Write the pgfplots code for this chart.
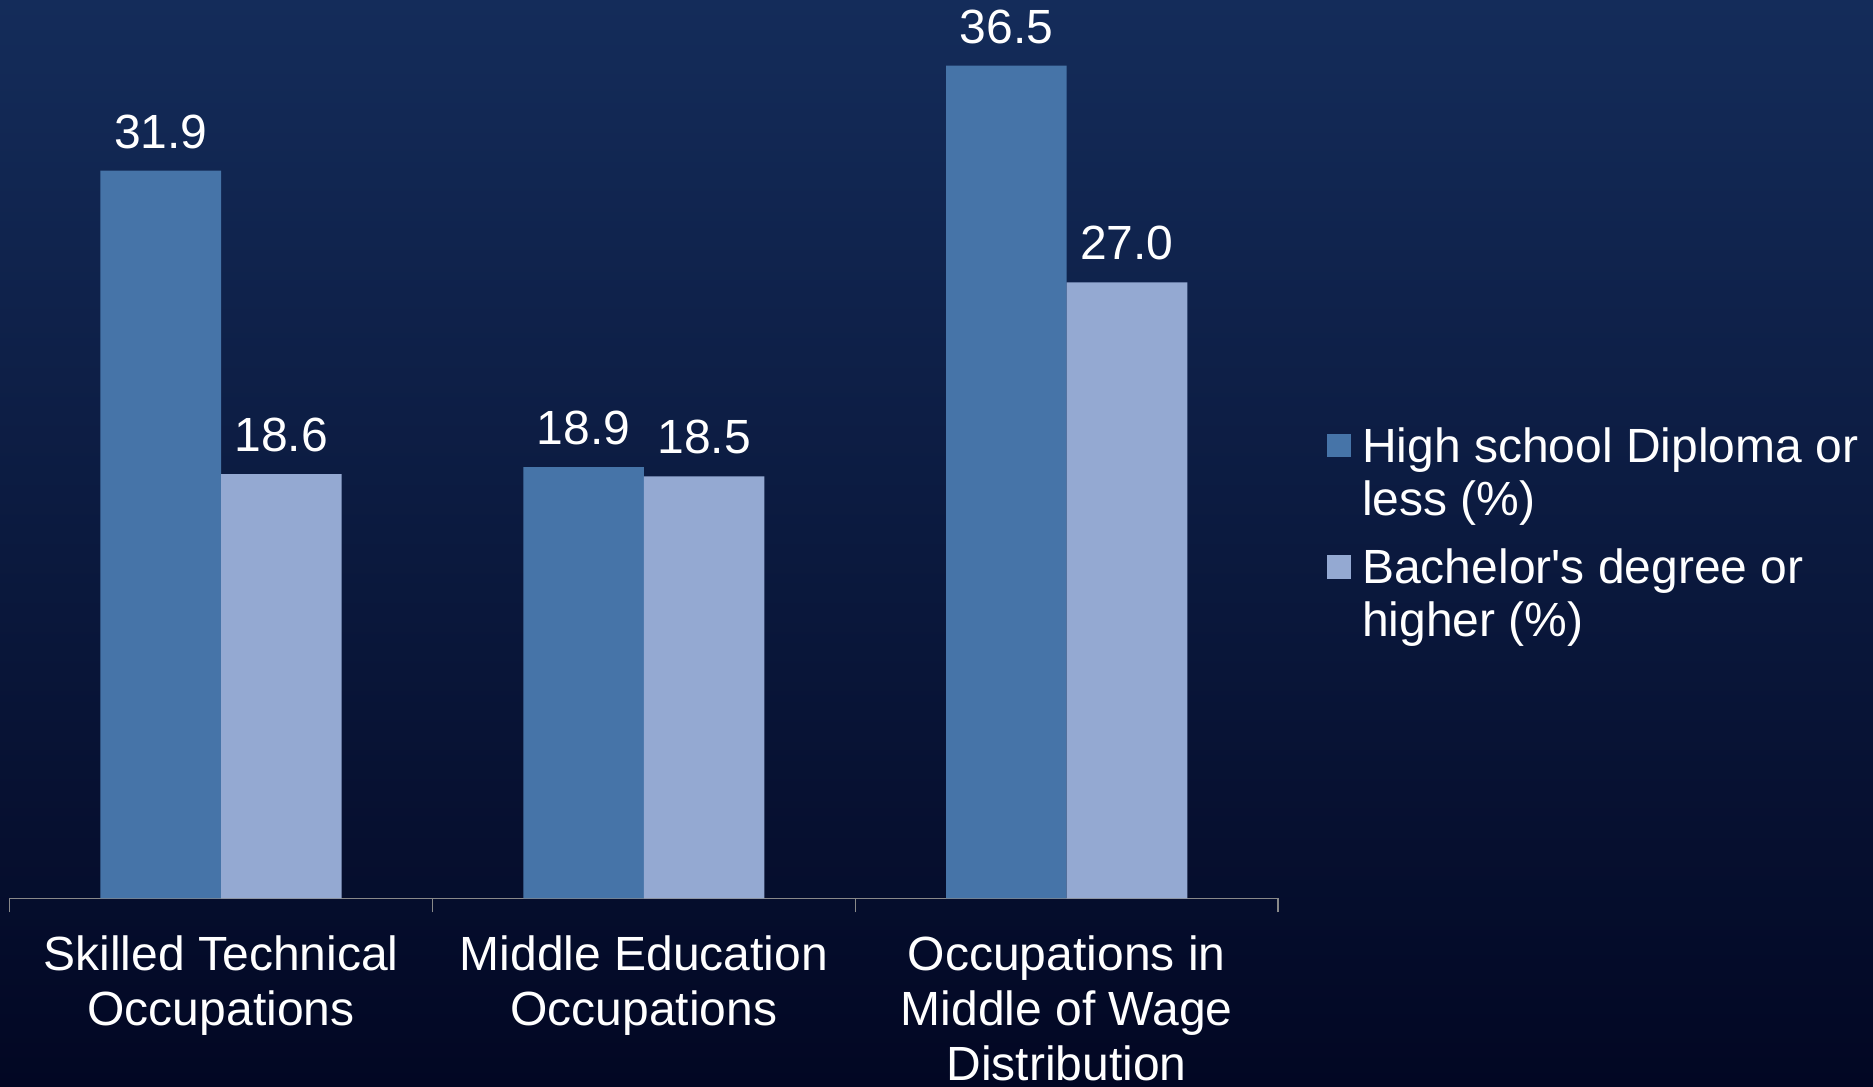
\documentclass[border=0pt]{standalone}
\usepackage{fontspec}
\setmainfont{Liberation Sans}[Ligatures=TeXOff]
\usepackage{pgfplots}
\pgfplotsset{compat=1.18}
\definecolor{barA}{RGB}{70,116,168}
\definecolor{barB}{RGB}{148,169,210}
\definecolor{bgtop}{RGB}{20,44,90}
\definecolor{bgbot}{RGB}{2,7,35}
\definecolor{axgray}{RGB}{137,137,137}
\newcommand\lfont{\fontsize{19.2bp}{22bp}\selectfont}
\begin{document}
\begin{tikzpicture}
\path[use as bounding box] (0,0) rectangle (749.2bp,434.8bp);
\clip (0,0) rectangle (749.2bp,434.8bp);
\shade[top color=bgtop, bottom color=bgbot] (0,0) rectangle (749.2bp,434.8bp);
\begin{axis}[
  at={(3.84bp,75.48bp)}, anchor=south west,
  scale only axis, width=507.4bp, height=359.32bp,
  xmin=-0.5, xmax=2.5, ymin=0, ymax=39.38,
  ybar=0pt, bar width=48.24bp,
  axis y line=none, axis x line*=bottom,
  x axis line style={draw=axgray, line width=0.6bp, -},
  xtick={0,1,2},
  xticklabels={{Skilled Technical\\Occupations},{Middle Education\\Occupations},{Occupations in\\Middle of Wage\\Distribution}},
  major tick length=0pt,
  xticklabel style={align=center, font=\lfont, text=white, anchor=north, inner sep=0pt, yshift=-14.8bp},
  extra x ticks={-0.5,0.5,1.5,2.5}, extra x tick labels={},
  extra x tick style={major tick length=5.6bp, tick align=outside, tick style={draw=axgray, line width=0.6bp}},
  nodes near coords,
  nodes near coords style={font=\lfont, text=white, inner sep=0pt, yshift=8.6bp},
  clip=false,
  /pgf/number format/fixed,
  /pgf/number format/fixed zerofill,
  /pgf/number format/precision=1,
  /pgf/number format/assume math mode=true,
]
\addplot[fill=barA, draw=none] coordinates {(0,31.9) (1,18.9) (2,36.5)};
\addplot[fill=barB, draw=none] coordinates {(0,18.6) (1,18.5) (2,27.0)};
\end{axis}
\fill[barA] (530.8bp,251.8bp) rectangle ++(9.4bp,9.4bp);
\node[anchor=base west, inner sep=0pt, text=white, font=\lfont] at (544.7bp,249.9bp) {High school Diploma or};
\node[anchor=base west, inner sep=0pt, text=white, font=\lfont] at (544.7bp,228.7bp) {less (\%)};
\fill[barB] (530.8bp,203.2bp) rectangle ++(9.4bp,9.4bp);
\node[anchor=base west, inner sep=0pt, text=white, font=\lfont] at (544.7bp,201.2bp) {Bachelor's degree or};
\node[anchor=base west, inner sep=0pt, text=white, font=\lfont] at (544.7bp,180.1bp) {higher (\%)};
\end{tikzpicture}
\end{document}
